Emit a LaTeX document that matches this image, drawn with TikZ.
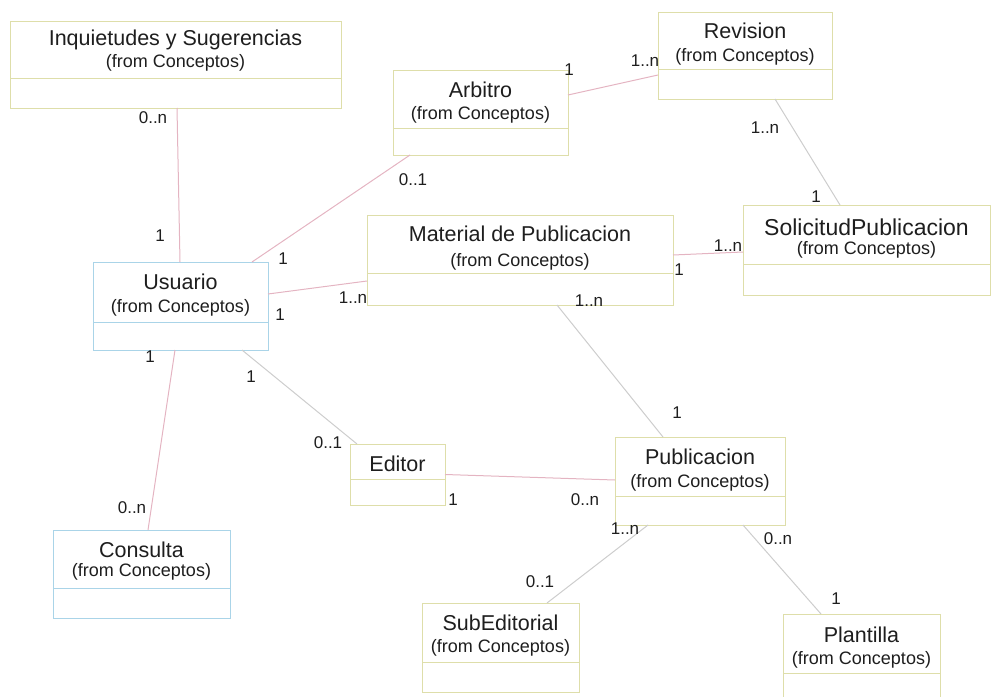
\documentclass[tikz,border=0pt]{standalone}
\usepackage{fontspec}
\setmainfont{Liberation Sans}
\usetikzlibrary{calc}

\definecolor{framey}{RGB}{222,222,170}
\definecolor{frameb}{RGB}{170,212,232}
\definecolor{linkpink}{RGB}{228,180,194}
\definecolor{linkgrey}{RGB}{205,205,205}
\definecolor{ink}{RGB}{30,30,30}

\tikzset{
  classframe/.style={draw, line width=1pt, inner sep=0pt, outer sep=0pt, fill=white},
  ctitle/.style={font=\fontsize{21.5}{24}\selectfont, inner sep=0pt, text=ink},
  csub/.style={font=\fontsize{18}{20}\selectfont, inner sep=0pt, text=ink},
  mult/.style={font=\fontsize{17}{19}\selectfont, inner sep=0pt, text=ink},
  pinklink/.style={draw=linkpink, line width=1pt},
  greylink/.style={draw=linkgrey, line width=1pt},
}

% class box: name, left, top, right, bottom, divider, colour
\newcommand{\umlbox}[7]{%
  \node[classframe, draw=#7,
        minimum width={(#4-#2)*1pt}, minimum height={(#5-#3)*1pt}]
        (#1) at ({(#2+#4)/2},{(#3+#5)/2}) {};
  \draw[draw=#7, line width=1pt] (#1.west |- 0,#6) -- (#1.east |- 0,#6);
}
% class heading: name, title y, title, subtitle y
\newcommand{\umlhead}[4]{%
  \node[ctitle] (#1-t) at (#1.center |- 0,#2) {#3};
  \node[csub] (#1-s) at (#1.center |- 0,#4) {(from Conceptos)};
}

\begin{document}
\begin{tikzpicture}[x=1pt,y=-1pt]
  \useasboundingbox (0,0) rectangle (993,696);
  \clip (0,0) rectangle (993,696);

  % classes
  \umlbox{inq}{10}{21}{341}{108}{78}{framey}
  \umlhead{inq}{40}{Inquietudes y Sugerencias}{63}

  \umlbox{arb}{393}{70}{568}{155}{128}{framey}
  \umlhead{arb}{90}{Arbitro}{115}

  \umlbox{rev}{658}{12}{832}{99}{69}{framey}
  \umlhead{rev}{31}{Revision}{57}

  \umlbox{usu}{93}{262}{268}{350}{322}{frameb}
  \umlhead{usu}{282}{Usuario}{308}

  \umlbox{mat}{367}{215}{673}{305}{273}{framey}
  \umlhead{mat}{234}{Material de Publicacion}{262}

  \umlbox{sol}{743}{205}{990}{295}{264}{framey}
  \node[ctitle, font=\fontsize{23}{26}\selectfont] (sol-t) at (sol.center |- 0,227) {SolicitudPublicacion};
  \node[csub] (sol-s) at (sol.center |- 0,250) {(from Conceptos)};

  \umlbox{edi}{350}{444}{445}{505}{479}{framey}
  \node[ctitle] (edi-t) at (edi.center |- 0,464) {Editor};

  \umlbox{pub}{615}{437}{785}{525}{496}{framey}
  \umlhead{pub}{457}{Publicacion}{483}

  \umlbox{con}{53}{530}{230}{618}{588}{frameb}
  \umlhead{con}{550}{Consulta}{572}

  \umlbox{sub}{422}{603}{579}{692}{662}{framey}
  \umlhead{sub}{623}{SubEditorial}{648}

  \umlbox{pla}{783}{614}{940}{720}{673}{framey}
  \umlhead{pla}{635}{Plantilla}{660}

  % associations
  \draw[pinklink] ([xshift=1.5pt]inq.south) -- ([xshift=-0.5pt]usu.north);
  \draw[pinklink] ([xshift=71.5pt]usu.north) -- ([xshift=-70.5pt]arb.south);
  \draw[pinklink] ([yshift=12pt]usu.east) -- ([yshift=-21pt]mat.west);
  \draw[pinklink] ([yshift=17.5pt]arb.east) -- ([yshift=-19.5pt]rev.west);
  \draw[greylink] ([xshift=30pt]rev.south) -- ([xshift=-26.5pt]sol.north);
  \draw[pinklink] ([yshift=5pt]mat.east) -- ([yshift=-2pt]sol.west);
  \draw[greylink] ([xshift=37pt]mat.south) -- ([xshift=-37pt]pub.north);
  \draw[greylink] ([xshift=61.5pt]usu.south) -- ([xshift=7pt]edi.north west);
  \draw[pinklink] ([xshift=-5.5pt]usu.south) -- ([xshift=6.5pt]con.north);
  \draw[pinklink] (edi.east) -- ([yshift=1pt]pub.west);
  \draw[greylink] ([xshift=-52pt]pub.south) -- ([xshift=46.5pt]sub.north);
  \draw[greylink] ([xshift=43pt]pub.south) -- ([xshift=-40.5pt]pla.north);

  % multiplicities
  \node[mult] (m-inq) at (153,118) {0..n};
  \node[mult] (m-usu-inq) at (160,236) {1};
  \node[mult] (m-usu-arb) at (283,259) {1};
  \node[mult] (m-arb-usu) at (413,180) {0..1};
  \node[mult] (m-mat-usu) at (353,298) {1..n};
  \node[mult] (m-usu-mat) at (280,315) {1};
  \node[mult] (m-arb-rev) at (569,70) {1};
  \node[mult] (m-rev-arb) at (645,61) {1..n};
  \node[mult] (m-rev-sol) at (765,128) {1..n};
  \node[mult] (m-sol-rev) at (816,197) {1};
  \node[mult] (m-mat-sol) at (679,270) {1};
  \node[mult] (m-sol-mat) at (728,246) {1..n};
  \node[mult] (m-mat-pub) at (589,301) {1..n};
  \node[mult] (m-pub-mat) at (677,413) {1};
  \node[mult] (m-usu-edi) at (251,377) {1};
  \node[mult] (m-edi-usu) at (328,443) {0..1};
  \node[mult] (m-usu-con) at (150,357) {1};
  \node[mult] (m-con-usu) at (132,508) {0..n};
  \node[mult] (m-edi-pub) at (453,500) {1};
  \node[mult] (m-pub-edi) at (585,500) {0..n};
  \node[mult] (m-pub-sub) at (625,529) {1..n};
  \node[mult] (m-sub-pub) at (540,582) {0..1};
  \node[mult] (m-pub-pla) at (778,539) {0..n};
  \node[mult] (m-pla-pub) at (836,599) {1};
\end{tikzpicture}
\end{document}
